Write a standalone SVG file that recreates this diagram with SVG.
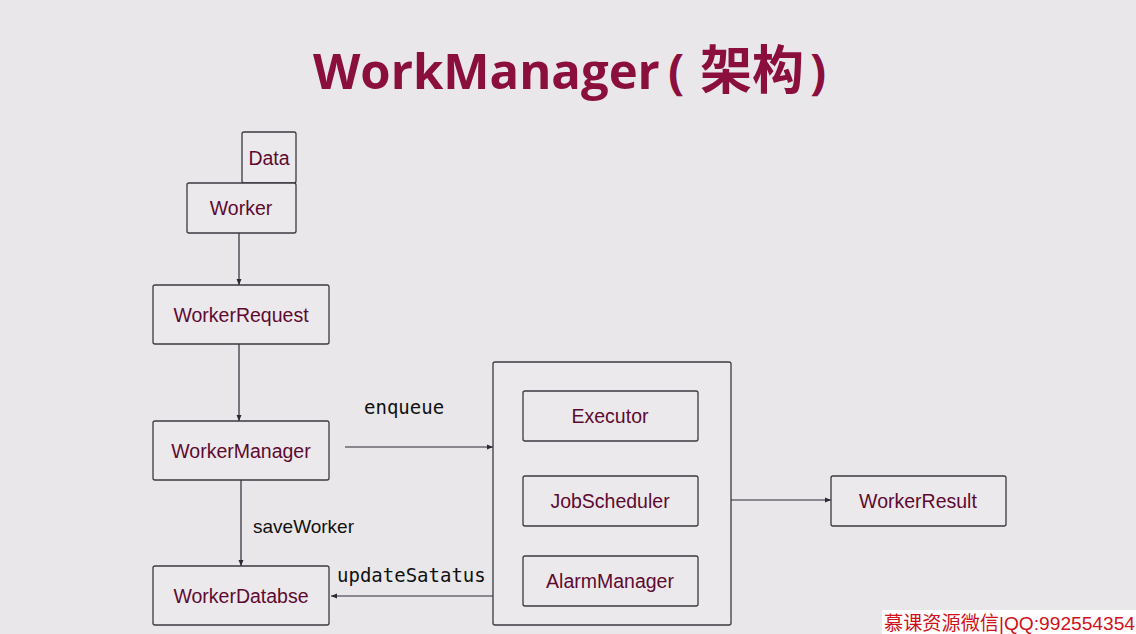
<svg xmlns="http://www.w3.org/2000/svg" width="1136" height="634" viewBox="0 0 1136 634">
<defs>
<style>
.bg{fill:#e9e7ea}
.box{fill:#ebe9ec;stroke:#3a3a40;stroke-width:1.3}
.lbl{font-family:"Liberation Sans",Arial,sans-serif;font-size:19.5px;fill:#5e0a30;text-anchor:middle;dominant-baseline:central}
.mono{font-family:"DejaVu Sans Mono","Liberation Mono",monospace;font-size:19px;fill:#111}
.sans{font-family:"Liberation Sans",Arial,sans-serif;font-size:19px;fill:#111}
.edge{stroke:#2a2a35;stroke-width:1.2;fill:none}
.title{font-family:"Open Sans","Noto Sans CJK SC",sans-serif;font-weight:bold;font-size:52px;fill:#8a0f3c}
</style>
<marker id="arr" markerWidth="8" markerHeight="8" refX="7" refY="4" orient="auto" markerUnits="userSpaceOnUse">
<path d="M1,1.5 L7,4 L1,6.5 Z" fill="#2a2a35"/>
</marker>
</defs>
<rect class="bg" x="0" y="0" width="1136" height="634"/>
<g id="title">
<text class="title" y="89"><tspan x="313" font-size="49">WorkManager</tspan><tspan x="668" font-size="48">(</tspan><tspan x="700" style="font-family:'Noto Sans CJK SC',sans-serif">架构</tspan><tspan x="810" font-size="48">)</tspan></text>
</g>
<g id="connectors">
<line class="edge" x1="239" y1="233" x2="239" y2="285" marker-end="url(#arr)"/>
<line class="edge" x1="239" y1="344" x2="239" y2="421" marker-end="url(#arr)"/>
<line class="edge" x1="345" y1="447" x2="493" y2="447" marker-end="url(#arr)"/>
<text class="mono" x="364" y="414">enqueue</text>
<line class="edge" x1="241" y1="480" x2="241" y2="566" marker-end="url(#arr)"/>
<text class="sans" x="253" y="533">saveWorker</text>
<line class="edge" x1="493" y1="596" x2="331" y2="596" marker-end="url(#arr)"/>
<text class="mono" x="337" y="582">updateSatatus</text>
<line class="edge" x1="731" y1="500" x2="831" y2="500" marker-end="url(#arr)"/>
</g>
<g id="node-data">
<rect class="box" x="242" y="132" width="54" height="51" rx="2"/>
<text class="lbl" x="269" y="158">Data</text>
</g>
<g id="node-worker">
<rect class="box" x="187" y="183" width="109" height="50" rx="2"/>
<text class="lbl" x="241" y="208">Worker</text>
</g>
<g id="node-workerrequest">
<rect class="box" x="153" y="285" width="176" height="59" rx="2"/>
<text class="lbl" x="241" y="315">WorkerRequest</text>
</g>
<g id="node-workermanager">
<rect class="box" x="153" y="421" width="176" height="59" rx="2"/>
<text class="lbl" x="241" y="451">WorkerManager</text>
</g>
<g id="node-workerdatabse">
<rect class="box" x="153" y="566" width="176" height="59" rx="2"/>
<text class="lbl" x="241" y="596">WorkerDatabse</text>
</g>
<g id="node-container">
<rect class="box" x="493" y="362" width="238" height="263" rx="2"/>
</g>
<g id="node-executor">
<rect class="box" x="523" y="391" width="175" height="50" rx="2"/>
<text class="lbl" x="610" y="416">Executor</text>
</g>
<g id="node-jobscheduler">
<rect class="box" x="523" y="476" width="175" height="50" rx="2"/>
<text class="lbl" x="610" y="501">JobScheduler</text>
</g>
<g id="node-alarmmanager">
<rect class="box" x="523" y="556" width="175" height="50" rx="2"/>
<text class="lbl" x="610" y="581">AlarmManager</text>
</g>
<g id="node-workerresult">
<rect class="box" x="831" y="476" width="175" height="50" rx="2"/>
<text class="lbl" x="918" y="501">WorkerResult</text>
</g>
<g id="watermark">
<rect x="882" y="610" width="254" height="24" fill="#ffffff"/>
<text x="884" y="630" font-family="'Liberation Sans','Noto Sans CJK SC',sans-serif" font-size="19" fill="#d0101a" textLength="251" lengthAdjust="spacingAndGlyphs">慕课资源微信|QQ:992554354</text>
</g>
</svg>
